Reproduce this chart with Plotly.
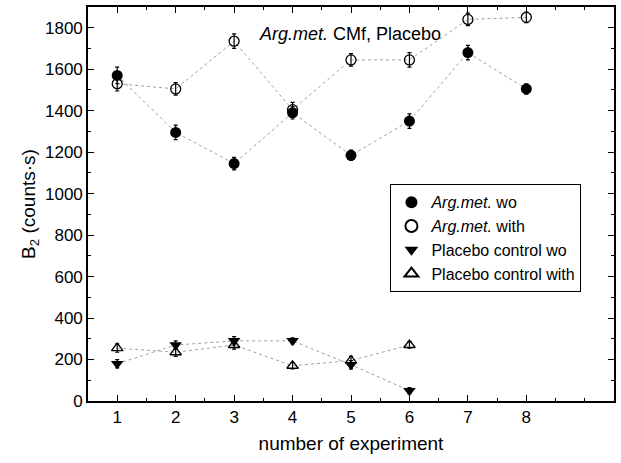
import plotly.graph_objects as go

experiments = [1, 2, 3, 4, 5, 6, 7, 8]
arg_wo = [1570, 1295, 1145, 1390, 1185, 1350, 1680, 1505]
arg_wo_err = [40, 35, 30, 30, 25, 35, 35, 25]
arg_with = [1530, 1505, 1735, 1405, 1645, 1645, 1840, 1850]
arg_with_err = [35, 30, 35, 35, 30, 35, 30, 25]

placebo_x = [1, 2, 3, 4, 5, 6]
placebo_wo = [180, 270, 290, 290, 175, 50]
placebo_with = [255, 235, 270, 170, 195, 270]
placebo_err = [20, 20, 20, 15, 20, 15]

FONT = "Liberation Sans"
line_style = dict(color="#a0a0a0", width=1, dash="dot")

fig = go.Figure()

# connecting dotted lines
for xs, ys in [(experiments, arg_wo), (experiments, arg_with),
               (placebo_x, placebo_wo), (placebo_x, placebo_with)]:
    fig.add_trace(go.Scatter(x=xs, y=ys, mode="lines", line=line_style,
                             showlegend=False, hoverinfo="skip"))

fig.add_trace(go.Scatter(
    x=experiments, y=arg_wo, mode="markers", name="<i>Arg.met.</i> wo",
    marker=dict(symbol="circle", size=11, color="black"),
    error_y=dict(type="data", array=arg_wo_err, color="black", thickness=1.2, width=2)))
fig.add_trace(go.Scatter(
    x=experiments, y=arg_with, mode="markers", name="<i>Arg.met.</i> with",
    marker=dict(symbol="circle-open", size=10, color="black", line=dict(width=1.3)),
    error_y=dict(type="data", array=arg_with_err, color="black", thickness=1.2, width=2)))
fig.add_trace(go.Scatter(
    x=placebo_x, y=placebo_wo, mode="markers", name="Placebo control wo",
    marker=dict(symbol="triangle-down", size=11, color="black"),
    error_y=dict(type="data", array=placebo_err, color="black", thickness=1.2, width=2)))
fig.add_trace(go.Scatter(
    x=placebo_x, y=placebo_with, mode="markers", name="Placebo control with",
    marker=dict(symbol="triangle-up-open", size=10, color="black", line=dict(width=1.3)),
    error_y=dict(type="data", array=placebo_err, color="black", thickness=1.2, width=2)))

fig.add_annotation(x=4.98, y=1770, xref="x", yref="y",
                   text="<i>Arg.met.</i> CMf, Placebo", showarrow=False,
                   font=dict(family=FONT, size=18, color="black"))

axis_common = dict(showgrid=False, zeroline=False, showline=True, linecolor="black",
                   linewidth=1.6, mirror="allticks", ticks="inside", ticklen=6,
                   tickwidth=1.3, tickcolor="black",
                   tickfont=dict(family=FONT, size=17, color="black"))

fig.update_xaxes(range=[0.5, 9.5], tickvals=experiments, **axis_common,
                 minor=dict(dtick=0.5, tick0=0.5, ticks="inside", ticklen=3,
                            tickcolor="black", tickwidth=1),
                 title=dict(text="number of experiment", standoff=10,
                            font=dict(family=FONT, size=19, color="black")))
fig.update_yaxes(range=[0, 1900], dtick=200, tick0=0, **axis_common,
                 minor=dict(dtick=100, ticks="inside", ticklen=3,
                            tickcolor="black", tickwidth=1),
                 title=dict(text="B<sub>2</sub> (counts·s)", standoff=4,
                            font=dict(family=FONT, size=19, color="black")))

fig.update_layout(
    width=621, height=463,
    margin=dict(l=88, r=6, t=5, b=62),
    plot_bgcolor="white", paper_bgcolor="white",
    legend=dict(x=0.575, y=0.55, xanchor="left", yanchor="top",
                bgcolor="white", bordercolor="black", borderwidth=1,
                font=dict(family=FONT, size=16, color="black"),
                tracegroupgap=0, itemsizing="constant"),
    showlegend=True,
)

fig.write_html("out.html")
